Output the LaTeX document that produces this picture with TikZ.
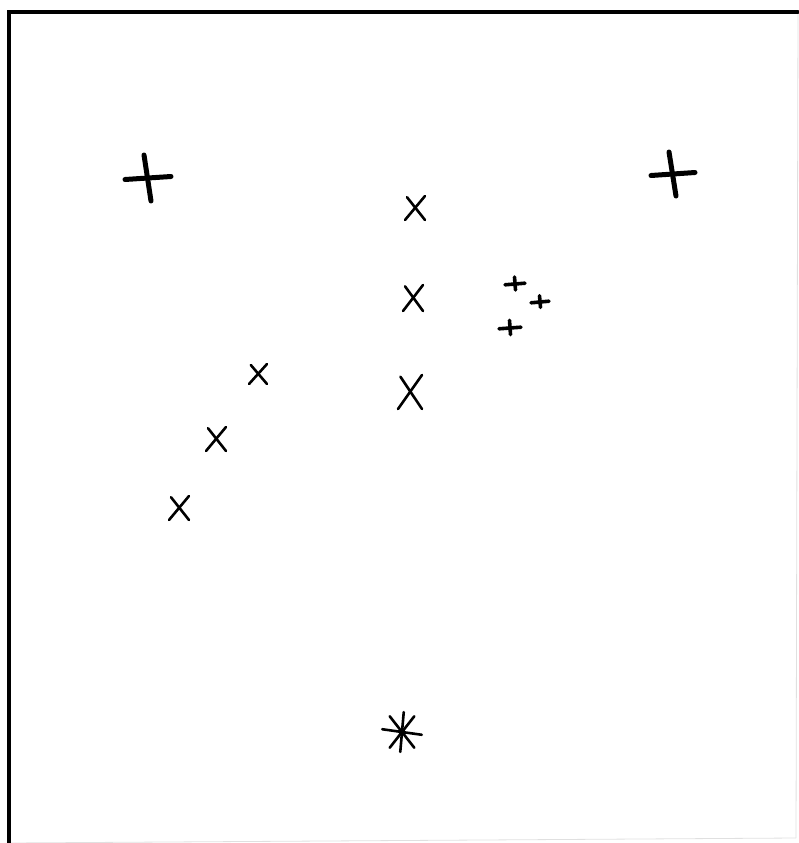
\documentclass[tikz,border=0pt]{standalone}
\usetikzlibrary{calc}
\tikzset{
  frameline/.style={line width=3.4pt, draw=black, line cap=round},
  faintline/.style={line width=0.8pt, draw=black!12},
  bigstroke/.style={line width=5pt, line cap=round},
  smallstroke/.style={line width=3.6pt, line cap=round},
  thinstroke/.style={line width=2.6pt, line cap=round},
  % big hand drawn plus, size as argument
  pics/bigplus/.style={code={
    \draw[bigstroke] (-#1,1.5) -- (#1,-1.5);
    \draw[bigstroke] (-4,-#1) -- (3,#1);
  }},
  % small plus
  pics/smallplus/.style={code={
    \draw[smallstroke] (-#1,0.8) -- (#1,-0.8);
    \draw[smallstroke] (-0.5,-0.7*#1) -- (0.5,0.6*#1);
  }},
  % cross, width and height
  pics/xcross/.style 2 args={code={
    \draw[thinstroke] (-#1,#2) -- (#1,-#2);
    \draw[thinstroke] (-0.8*#1,-0.9*#2) -- (#1,#2);
  }},
  % asterisk
  pics/starmark/.style={code={
    \foreach \ang in {8,52,95,128}
      \draw[thinstroke] (\ang:#1) -- (\ang+180:#1);
    \fill (0,0) circle (3.5);
  }},
}
\begin{document}
\begin{tikzpicture}[x=1pt, y=-1pt]

  \useasboundingbox (0,0) rectangle (798,843);

  % ---- frame --------------------------------------------------------------
  \coordinate (tl) at (9,12);
  \coordinate (tr) at (798,12);
  \coordinate (bl) at (9,843);
  \coordinate (br) at (796,838);
  \draw[faintline] (tr) -- (br);
  \draw[faintline] (bl) -- (br);
  \draw[frameline] (bl) -- (tl) -- (tr);

  % ---- big pluses ---------------------------------------------------------
  \pic (plusL) at (148,178) {bigplus=23};
  \pic (plusR) at (673,174) {bigplus=22};

  % ---- centre column of crosses -------------------------------------------
  \pic (xA) at (415,208) {xcross={10}{12}};
  \pic (xB) at (413,298) {xcross={10}{13}};
  \pic (xC) at (410,392) {xcross={12}{17}};

  % ---- small pluses -------------------------------------------------------
  \pic (sp1) at (515,284) {smallplus=10};
  \pic (sp2) at (540,302) {smallplus=9};
  \pic (sp3) at (510,328) {smallplus=11};

  % ---- diagonal crosses ---------------------------------------------------
  \pic (xD) at (258,374) {xcross={9}{10}};
  \pic (xE) at (216,439) {xcross={10}{12}};
  \pic (xF) at (179,508) {xcross={10}{12}};

  % ---- asterisk -----------------------------------------------------------
  \pic (ast) at (402,732) {starmark=20};

\end{tikzpicture}
\end{document}
